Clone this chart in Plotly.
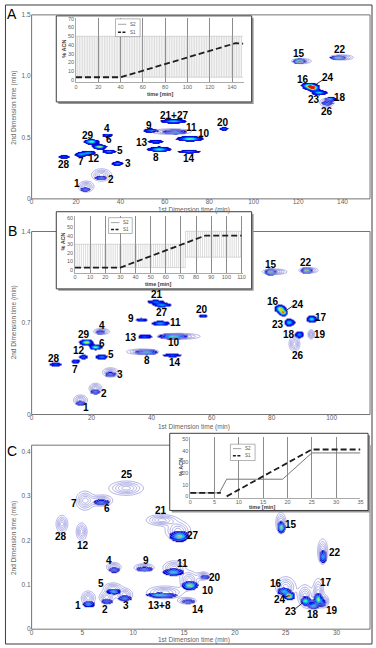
import numpy as np
import plotly.graph_objects as go

W, H = 376, 648

# ---------------- Panel A (first dimension 0-152 min) ----------------
a_core_x = [24.0, 31.1, 38.5, 14.4, 21.8, 25.5, 34.8, 30.4, 26.7, 34.1, 55.7, 57.3, 53.3, 63.7, 64.4, 71.1, 70.8, 86.4, 120.4, 137.8, 124.8, 126.4, 129.3, 134.4, 133.0]
a_core_y = [0.078, 0.172, 0.29, 0.344, 0.363, 0.376, 0.387, 0.427, 0.468, 0.52, 0.468, 0.406, 0.559, 0.635, 0.548, 0.492, 0.387, 0.573, 1.123, 1.153, 0.925, 0.905, 0.868, 0.817, 0.782]
a_core_sx = [1.4, 1.7, 1.6, 1.9, 1.7, 2.1, 1.9, 1.9, 2.0, 1.5, 2.3, 3.1, 2.1, 3.6, 3.3, 3.6, 3.3, 1.4, 1.6, 1.9, 2.1, 1.7, 2.1, 1.6, 1.6]
a_core_sy = [0.011, 0.011, 0.012, 0.010, 0.011, 0.011, 0.011, 0.012, 0.013, 0.011, 0.010, 0.013, 0.011, 0.012, 0.013, 0.013, 0.010, 0.010, 0.013, 0.011, 0.014, 0.013, 0.013, 0.011, 0.013]
a_core_amp = [0.55, 0.55, 0.6, 0.5, 0.55, 0.6, 0.6, 0.85, 0.8, 0.55, 0.5, 0.75, 0.55, 0.7, 0.65, 0.8, 0.55, 0.5, 1.0, 0.95, 0.9, 0.95, 0.7, 0.6, 0.55]
a_halo_x = [24.5, 31.5, 121.5, 139.5, 63.0, 133.0]
a_halo_y = [0.1, 0.195, 1.123, 1.153, 0.548, 0.785]
a_halo_sx = [2.0, 2.5, 2.5, 3.0, 5.0, 1.8]
a_halo_sy = [0.025, 0.028, 0.012, 0.012, 0.013, 0.02]
a_labels = ["1", "2", "3", "28", "7", "12", "5", "6", "29", "4", "13", "8", "9", "21+27", "11", "10", "14", "20", "15", "22", "16", "24", "23", "18", "26"]
a_lab_x = [20.4, 35.6, 43.4, 14.4, 22.2, 28.1, 39.7, 35.0, 25.5, 34.1, 49.9, 56.0, 52.9, 64.4, 71.9, 77.8, 71.1, 86.4, 120.4, 139.0, 122.2, 133.3, 127.1, 139.0, 133.0]
a_lab_y = [0.124, 0.159, 0.285, 0.28, 0.306, 0.333, 0.398, 0.486, 0.519, 0.573, 0.46, 0.339, 0.602, 0.683, 0.581, 0.532, 0.333, 0.626, 1.185, 1.218, 0.976, 0.992, 0.809, 0.828, 0.715]
a_xticks = [0, 20, 40, 60, 80, 100, 120, 140]
a_yticks = [0, 0.5, 1.0, 1.5]
a_yticktext = ["0", "0.5", "1.0", "1.5"]

# inset A gradients
a_s2_start = [0]
a_s2_end = [150]
a_s2_low = [3]
a_s2_high = [50]
a_s2_cycle = 1.5
a_s1_t = [0, 40, 143, 150]
a_s1_v = [3, 3, 42, 41.5]

# ---------------- Panel B (first dimension 0-113 min) ----------------
b_core_x = [16.1, 21.1, 26.1, 7.9, 14.5, 17.1, 23.2, 38.1, 46.7, 21.2, 18.1, 22.7, 37.6, 47.1, 36.5, 42.8, 41.2, 43.3, 57.0, 79.5, 91.5, 82.6, 83.7, 85.8, 93.2, 89.0]
b_core_y = [0.088, 0.177, 0.31, 0.386, 0.409, 0.441, 0.441, 0.479, 0.454, 0.517, 0.555, 0.631, 0.598, 0.6, 0.726, 0.699, 0.863, 0.838, 0.757, 1.092, 1.103, 0.812, 0.782, 0.706, 0.732, 0.613]
b_core_sx = [1.0, 1.0, 1.2, 1.4, 1.0, 0.9, 1.3, 2.2, 2.0, 1.2, 1.3, 0.9, 1.5, 2.8, 1.3, 1.8, 1.8, 1.8, 1.0, 1.1, 1.1, 1.0, 0.9, 1.1, 1.0, 0.9]
b_core_sy = [0.012, 0.012, 0.012, 0.010, 0.010, 0.011, 0.012, 0.013, 0.010, 0.012, 0.014, 0.012, 0.010, 0.012, 0.010, 0.012, 0.010, 0.010, 0.010, 0.014, 0.014, 0.016, 0.015, 0.018, 0.016, 0.016]
b_core_amp = [0.5, 0.55, 0.55, 0.5, 0.5, 0.55, 0.6, 0.75, 0.5, 0.85, 0.9, 0.5, 0.5, 0.8, 0.5, 0.65, 0.55, 0.65, 0.5, 1.0, 0.95, 0.85, 0.9, 0.7, 0.75, 0.6]
b_halo_x = [16.3, 21.3, 26.3, 81.0, 92.3, 93.2, 87.6, 23.3, 49.0, 37.0]
b_halo_y = [0.11, 0.2, 0.322, 1.092, 1.103, 0.613, 0.54, 0.635, 0.598, 0.48]
b_halo_sx = [1.3, 1.2, 1.5, 2.3, 1.8, 0.6, 1.0, 1.5, 4.0, 3.0]
b_halo_sy = [0.022, 0.022, 0.02, 0.012, 0.012, 0.02, 0.033, 0.013, 0.013, 0.012]
b_labels = ["1", "2", "3", "28", "7", "12", "5", "8", "14", "6", "29", "4", "13", "10", "9", "11", "21", "27", "20", "15", "22", "16", "24", "23", "17", "18", "19", "26"]
b_lab_x = [18.1, 24.1, 29.6, 7.3, 14.5, 15.7, 26.6, 38.4, 47.7, 23.6, 17.3, 23.4, 33.2, 47.4, 33.2, 47.9, 41.7, 43.5, 56.7, 79.7, 91.6, 80.6, 88.8, 82.2, 96.5, 85.8, 96.2, 88.8]
b_lab_y = [0.05, 0.164, 0.308, 0.429, 0.346, 0.487, 0.462, 0.411, 0.401, 0.547, 0.613, 0.681, 0.59, 0.55, 0.732, 0.701, 0.916, 0.779, 0.807, 1.148, 1.16, 0.863, 0.845, 0.689, 0.739, 0.613, 0.613, 0.454]
b_xticks = [0, 20, 40, 60, 80, 100]
b_yticks = [0, 0.7, 1.4]
b_yticktext = ["0", "0.7", "1.4"]

b_s2_start = [0, 73]
b_s2_end = [73, 110]
b_s2_low = [3, 15]
b_s2_high = [30, 45]
b_s2_cycle = 1.4
b_s1_t = [0, 30, 86, 110]
b_s1_v = [3, 3, 40, 40]

# ---------------- Panel C (first dimension 0-33 min) ----------------
c_core_x = [5.57, 7.38, 9.13, 8.03, 12.94, 12.2, 15.37, 15.53, 17.0, 13.9, 11.07, 8.09, 6.8, 14.5, 24.53, 28.64, 24.76, 25.3, 26.92, 27.67, 28.16, 28.64]
c_core_y = [0.0565, 0.0625, 0.07, 0.085, 0.0766, 0.078, 0.0625, 0.099, 0.118, 0.129, 0.136, 0.134, 0.287, 0.21, 0.23, 0.164, 0.086, 0.075, 0.064, 0.053, 0.068, 0.06]
c_core_sx = [0.35, 0.4, 0.45, 0.45, 0.85, 0.6, 0.45, 0.45, 0.3, 0.6, 0.5, 0.4, 0.5, 0.55, 0.2, 0.2, 0.4, 0.3, 0.3, 0.3, 0.25, 0.2]
c_core_sy = [0.0045, 0.004, 0.004, 0.004, 0.0038, 0.003, 0.0035, 0.006, 0.0035, 0.005, 0.004, 0.004, 0.004, 0.007, 0.008, 0.009, 0.005, 0.005, 0.006, 0.005, 0.008, 0.006]
c_core_amp = [0.6, 0.5, 0.55, 0.65, 0.55, 0.35, 0.5, 0.85, 0.5, 0.7, 0.55, 0.5, 0.55, 0.85, 0.85, 0.65, 0.65, 1.0, 0.8, 0.65, 0.85, 0.4]
c_halo_x = [5.57, 7.38, 9.13, 8.0, 8.09, 13.1, 14.0, 15.5, 16.9, 15.3, 11.07, 2.98, 4.92, 5.25, 6.9, 9.3, 12.8, 14.4, 24.53, 28.64, 25.0, 26.9, 28.2, 27.6, 28.8]
c_halo_y = [0.07, 0.072, 0.078, 0.092, 0.14, 0.083, 0.138, 0.11, 0.12, 0.064, 0.139, 0.237, 0.22, 0.29, 0.29, 0.318, 0.246, 0.222, 0.24, 0.175, 0.095, 0.075, 0.082, 0.057, 0.063]
c_halo_sx = [0.38, 0.4, 0.45, 0.5, 0.4, 1.0, 0.6, 0.5, 0.35, 0.5, 0.55, 0.32, 0.3, 0.5, 0.6, 0.95, 0.85, 0.7, 0.28, 0.28, 0.55, 0.4, 0.3, 0.35, 0.25]
c_halo_sy = [0.009, 0.008, 0.008, 0.007, 0.006, 0.008, 0.009, 0.012, 0.005, 0.004, 0.005, 0.011, 0.011, 0.012, 0.007, 0.009, 0.007, 0.012, 0.013, 0.016, 0.013, 0.014, 0.018, 0.006, 0.008]
c_labels = ["1", "2", "3", "5", "13+8", "14", "10", "20", "11", "9", "4", "28", "12", "7", "6", "25", "21", "27", "15", "22", "16", "24", "23", "18", "17", "19"]
c_lab_x = [4.6, 7.2, 9.29, 6.86, 12.56, 16.4, 17.38, 18.06, 14.82, 11.23, 7.6, 2.85, 5.02, 4.14, 7.44, 9.39, 12.69, 15.92, 25.57, 29.87, 24.01, 24.43, 25.5, 27.67, 28.96, 29.55]
c_lab_y = [0.054, 0.044, 0.054, 0.102, 0.054, 0.044, 0.088, 0.1175, 0.148, 0.155, 0.155, 0.209, 0.189, 0.283, 0.272, 0.348, 0.268, 0.211, 0.237, 0.174, 0.1026, 0.0677, 0.0394, 0.034, 0.105, 0.043]
c_xticks = [0, 5, 10, 15, 20, 25, 30]
c_yticks = [0, 0.1, 0.2, 0.3, 0.4]
c_yticktext = ["0", "0.1", "0.2", "0.3", "0.4"]

c_s2_t = [0, 6, 7.5, 19, 25, 35]
c_s2_v = [3, 3, 15, 15, 38, 38]
c_s1_t = [0, 6.3, None, 7.5, 25, 35]
c_s1_v = [3, 3, None, 0, 41, 41]

# ---------------- helpers ----------------
def px_x(p):
    return p / W

def px_y(p):
    return 1 - p / H

def xd(p0, p1):
    return [p0 / W, p1 / W]

def yd(top, bot):
    return [1 - bot / H, 1 - top / H]


def field(xr, yr, nx, ny, xs, ys, sxs, sys_, amps=None):
    gx = np.linspace(xr[0], xr[1], nx)
    gy = np.linspace(yr[0], yr[1], ny)
    X, Y = np.meshgrid(gx, gy)
    Z = np.zeros_like(X)
    for i in range(len(xs)):
        a = 1.0 if amps is None else amps[i]
        Z += a * np.exp(-0.5 * ((X - xs[i]) / sxs[i]) ** 2 - 0.5 * ((Y - ys[i]) / sys_[i]) ** 2)
    return gx, gy, np.clip(Z, 0, 1.0).astype(np.float32)


def comb(starts, ends, lows, highs, cycle):
    # vertical strokes of the repeated 2nd-dimension gradient plus its low/high levels
    t, v = [], []
    for s, e, lo, hi in zip(starts, ends, lows, highs):
        t0 = s
        while t0 < e - 1e-9:
            t += [t0, t0, None]
            v += [lo, hi, None]
            t0 += cycle
        t += [s, e, None, s, e, None]
        v += [lo, lo, None, hi, hi, None]
    return t, v


core_scale = [
    [0.0, "rgba(255,255,255,0)"], [0.16, "rgba(255,255,255,0)"],
    [0.161, "rgb(20,20,175)"], [0.3, "rgb(0,0,225)"], [0.45, "rgb(0,50,255)"],
    [0.58, "rgb(0,140,255)"], [0.7, "rgb(0,225,240)"], [0.8, "rgb(110,255,120)"],
    [0.9, "rgb(255,230,0)"], [1.0, "rgb(225,20,0)"],
]
halo_color = "rgb(140,140,218)"

fig = go.Figure()

panels = [
    dict(xa="x", ya="y", xr=[0, 152.4], yr=[0, 1.5], nx=380, ny=400,
         core=(a_core_x, a_core_y, a_core_sx, a_core_sy, a_core_amp),
         halo=(a_halo_x, a_halo_y, a_halo_sx, a_halo_sy),
         labels=(a_labels, a_lab_x, a_lab_y)),
    dict(xa="x2", ya="y2", xr=[0, 112.8], yr=[0, 1.4], nx=360, ny=360,
         core=(b_core_x, b_core_y, b_core_sx, b_core_sy, b_core_amp),
         halo=(b_halo_x, b_halo_y, b_halo_sx, b_halo_sy),
         labels=(b_labels, b_lab_x, b_lab_y)),
    dict(xa="x3", ya="y3", xr=[0, 33.3], yr=[0, 0.415], nx=380, ny=340,
         core=(c_core_x, c_core_y, c_core_sx, c_core_sy, c_core_amp),
         halo=(c_halo_x, c_halo_y, c_halo_sx, c_halo_sy),
         labels=(c_labels, c_lab_x, c_lab_y)),
]

annotations = []
for p in panels:
    hx, hy, hz = field(p["xr"], p["yr"], p["nx"], p["ny"], *p["halo"])
    fig.add_trace(go.Contour(
        x=hx, y=hy, z=hz, xaxis=p["xa"], yaxis=p["ya"],
        contours=dict(coloring="lines", start=0.2, end=0.9, size=0.175, showlabels=False),
        colorscale=[[0, halo_color], [1, halo_color]], line=dict(width=0.7),
        showscale=False, hoverinfo="skip"))
    cx, cy, cz = field(p["xr"], p["yr"], p["nx"], p["ny"], *p["core"])
    fig.add_trace(go.Heatmap(
        x=cx, y=cy, z=cz, xaxis=p["xa"], yaxis=p["ya"], zmin=0, zmax=1,
        colorscale=core_scale, zsmooth="best", showscale=False, hoverinfo="skip"))
    for t, lx, ly in zip(*p["labels"]):
        annotations.append(dict(
            x=lx, y=ly, xref=p["xa"], yref=p["ya"], text=t, showarrow=False,
            font=dict(family="Liberation Sans, Arial", size=10, color="black", weight="bold"),
            xanchor="center", yanchor="middle"))

# ---------------- insets ----------------
a2t, a2v = comb(a_s2_start, a_s2_end, a_s2_low, a_s2_high, a_s2_cycle)
b2t, b2v = comb(b_s2_start, b_s2_end, b_s2_low, b_s2_high, b_s2_cycle)
insets = [
    ("x4", "y4", a2t, a2v, a_s1_t, a_s1_v, 0.45, "rgb(175,175,175)"),
    ("x5", "y5", b2t, b2v, b_s1_t, b_s1_v, 0.45, "rgb(175,175,175)"),
    ("x6", "y6", c_s2_t, c_s2_v, c_s1_t, c_s1_v, 1.0, "rgb(120,120,120)"),
]
for xa, ya, t2, v2, t1, v1, w2, col2 in insets:
    fig.add_trace(go.Scatter(x=t2, y=v2, xaxis=xa, yaxis=ya, mode="lines",
                             line=dict(color=col2, width=w2), hoverinfo="skip", showlegend=False,
                             connectgaps=False))
    fig.add_trace(go.Scatter(x=t1, y=v1, xaxis=xa, yaxis=ya, mode="lines",
                             line=dict(color="rgb(30,30,30)", width=1.8, dash="6px,3px"),
                             hoverinfo="skip", showlegend=False, connectgaps=False))

tick_col = "rgb(95,95,95)"
main_font = dict(family="Liberation Sans, Arial", size=6.5, color=tick_col)
small_font = dict(family="Liberation Sans, Arial", size=5.5, color=tick_col)

def main_axes(xdom, ydom, xr, yr, xt, yt, ytt, anchor_x, anchor_y):
    xa = dict(domain=xdom, range=xr, anchor=anchor_y, tickvals=xt, showgrid=False, zeroline=False,
              showline=False, ticks="", ticklen=0, tickfont=main_font, fixedrange=True,
              ticklabelstandoff=-2)
    ya = dict(domain=ydom, range=yr, anchor=anchor_x, tickvals=yt, ticktext=ytt, showgrid=False,
              zeroline=False, showline=False, ticks="", ticklen=0, tickfont=main_font, fixedrange=True)
    return xa, ya

def inset_axes(xdom, ydom, xr, yr, xt, yt, anchor_x, anchor_y):
    xa = dict(domain=xdom, range=xr, anchor=anchor_y, tickvals=xt, showgrid=True,
              gridcolor="rgb(140,140,140)", gridwidth=0.8, zeroline=False, showline=True,
              linecolor="rgb(170,170,170)", linewidth=0.6, ticks="", ticklen=0, tickfont=small_font,
              fixedrange=True, ticklabelstandoff=-1)
    ya = dict(domain=ydom, range=yr, anchor=anchor_x, tickvals=yt, showgrid=False, zeroline=False,
              showline=True, linecolor="rgb(170,170,170)", linewidth=0.6, ticks="", ticklen=0,
              tickfont=small_font, fixedrange=True)
    return xa, ya

xA, yA = main_axes(xd(30, 373), yd(11, 197), [0, 152.4], [0, 1.5], a_xticks, a_yticks, a_yticktext, "x", "y")
xB, yB = main_axes(xd(30, 373), yd(230, 415), [0, 112.8], [0, 1.4], b_xticks, b_yticks, b_yticktext, "x2", "y2")
xC, yC = main_axes(xd(30, 373), yd(446, 632), [0, 33.3], [0, 0.415], c_xticks, c_yticks, c_yticktext, "x3", "y3")
xIA, yIA = inset_axes(xd(75, 245), yd(14, 79), [0, 150.5], [-2.6, 71.1], list(range(0, 141, 20)), list(range(0, 71, 10)), "x4", "y4")
xIB, yIB = inset_axes(xd(74, 244), yd(214, 272), [0, 110.8], [-3.4, 63.1], list(range(0, 111, 10)), list(range(0, 61, 10)), "x5", "y5")
xIC, yIC = inset_axes(xd(190.7, 363.3), yd(438, 499), [0, 35], [-1.1, 51.7], list(range(0, 36, 5)), list(range(0, 51, 10)), "x6", "y6")

shapes = []
def rect_px(x0, y0, x1, y1, line_col, lw, fill=None):
    d = dict(type="rect", xref="paper", yref="paper", x0=px_x(x0), x1=px_x(x1), y0=px_y(y1), y1=px_y(y0),
             line=dict(color=line_col, width=lw), layer="below")
    if fill:
        d["fillcolor"] = fill
    return d

def line_px(x0, y0, x1, y1, col, lw, dash=None):
    d = dict(type="line", xref="paper", yref="paper", x0=px_x(x0), x1=px_x(x1), y0=px_y(y0), y1=px_y(y1),
             line=dict(color=col, width=lw), layer="above")
    if dash:
        d["line"]["dash"] = dash
    return d

# outer frame and main frames
shapes.append(rect_px(3.5, 1, 375, 647, "rgb(60,60,60)", 1))
for top, bot in [(11, 197), (230, 415), (446, 632)]:
    shapes.append(rect_px(30, top, 373, bot, "rgb(100,100,100)", 0.9))
# inset boxes with shadows
for x0, y0, x1, y1 in [(55, 12, 253, 99), (55, 210, 253, 288), (170, 434, 371, 512)]:
    shapes.append(rect_px(x0 + 2, y0 + 2, x1 + 2, y1 + 2, "rgb(150,150,150)", 0, "rgb(150,150,150)"))
    shapes.append(rect_px(x0, y0, x1, y1, "rgb(60,60,60)", 1, "white"))

# legends inside insets
for (lx0, ly0, lx1, ly1, yS2, yS1) in [(115, 15, 140, 33, 20.5, 28.5), (108, 216, 132, 232, 221, 228),
                                       (231.5, 445, 256.5, 461.5, 449.5, 456.8)]:
    d = rect_px(lx0, ly0, lx1, ly1, "rgb(130,130,130)", 0.6, "white")
    d["layer"] = "above"
    shapes.append(d)
    shapes.append(line_px(lx0 + 2.5, yS2, lx0 + 11, yS2, "rgb(140,140,140)", 0.8))
    shapes.append(line_px(lx0 + 2.5, yS1, lx0 + 11, yS1, "rgb(30,30,30)", 1.5, "3px,1.5px"))
    for txt_, yy in [("S2", yS2), ("S1", yS1)]:
        annotations.append(dict(x=px_x(lx0 + 13), y=px_y(yy), xref="paper", yref="paper", text=txt_,
                                showarrow=False, xanchor="left", yanchor="middle",
                                font=dict(family="Liberation Sans, Arial", size=4.5, color="rgb(80,80,80)")))

# leader lines
for xa, ya, x0, y0, x1, y1 in [("x", "y", 131.5, 0.975, 127.8, 0.93),
                               ("x2", "y2", 87.3, 0.835, 84.8, 0.795),
                               ("x3", "y3", 24.85, 0.071, 25.25, 0.075),
                               ("x3", "y3", 26.0, 0.047, 26.7, 0.06)]:
    shapes.append(dict(type="line", xref=xa, yref=ya, x0=x0, y0=y0, x1=x1, y1=y1,
                       line=dict(color="black", width=0.8), layer="above"))

# axis titles and panel letters
def txt(x, y, s, size, color, angle=0, weight="normal"):
    annotations.append(dict(x=px_x(x), y=px_y(y), xref="paper", yref="paper", text=s, showarrow=False,
                            textangle=angle, xanchor="center", yanchor="middle",
                            font=dict(family="Liberation Sans, Arial", size=size, color=color, weight=weight)))

for yy in [208, 428, 643]:
    txt(195, yy, "1st Dimension time (min)", 6.5, tick_col)
for yy in [105, 322, 540]:
    txt(12, yy, "2nd Dimension time (min)", 6.5, tick_col, -90)
txt(10, 10, "A", 14, "black")
txt(11, 229, "B", 14, "black")
txt(10, 452, "C", 14, "black")
# inset titles
txt(160, 91, "time [min]", 5.5, "rgb(60,60,60)", weight="bold")
txt(158, 283, "time [min]", 5.5, "rgb(60,60,60)", weight="bold")
txt(263, 508, "time [min]", 5.5, "rgb(60,60,60)", weight="bold")
txt(62, 45, "% ACN", 5.5, "rgb(60,60,60)", -90, "bold")
txt(62, 240, "% ACN", 5.5, "rgb(60,60,60)", -90, "bold")
txt(181.5, 468, "% ACN", 5.5, "rgb(60,60,60)", -90, "bold")

fig.update_layout(
    width=W, height=H, margin=dict(l=0, r=0, t=0, b=0),
    paper_bgcolor="white", plot_bgcolor="rgba(0,0,0,0)", showlegend=False,
    xaxis=xA, yaxis=yA, xaxis2=xB, yaxis2=yB, xaxis3=xC, yaxis3=yC,
    xaxis4=xIA, yaxis4=yIA, xaxis5=xIB, yaxis5=yIB, xaxis6=xIC, yaxis6=yIC,
    shapes=shapes, annotations=annotations,
)

fig.write_html("out.html", config=dict(displayModeBar=False),
               post_script="document.body.style.margin='0px';document.body.style.overflow='hidden';")
